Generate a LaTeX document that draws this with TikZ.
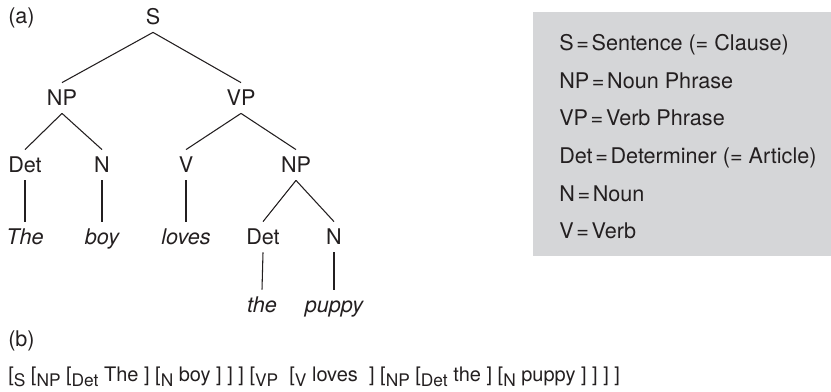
\documentclass[tikz,border=0pt]{standalone}
\usepackage{fontspec}
\setmainfont{TeX Gyre Heros}
\usepackage{xcolor}
\usetikzlibrary{positioning}
\definecolor{boxgray}{RGB}{213,214,216}
\definecolor{inkgray}{RGB}{35,31,32}
\newcommand{\labsize}{\fontsize{16.2}{19}\selectfont}
\newcommand{\strsize}{\fontsize{15}{18}\selectfont}
\newcommand{\lowsub}[1]{[\raisebox{-3.5pt}{\fontsize{13}{13}\selectfont #1}}
\newcommand{\eq}{\hspace{2pt}=\hspace{2pt}}
\tikzset{
  cat/.style={text=inkgray, font=\labsize, text height=11.7pt, text depth=0pt, inner sep=5.5pt},
  word/.style={cat, font=\labsize\itshape},
  key/.style={text=inkgray, font=\labsize, anchor=base west, inner sep=0pt},
  branch/.style={draw=inkgray, line width=0.8pt}
}

\begin{document}
\begin{tikzpicture}[x=0.75pt,y=0.75pt,yscale=-1,xscale=1]
\useasboundingbox (0,0) rectangle (831,392);

%Shape: Rectangle (legend)
\fill [boxgray] (533,12) rectangle (831,256);

% Text Node
\node [key] (parta) at (8,24) {(a)};
\node [key] (partb) at (8,346) {(b)};

% Tree nodes
\node [cat] (s) at (153,17) {S};
\node [cat] (np) at (62,98) {NP};
\node [cat] (vp) at (241,98) {VP};
\node [cat] (det) at (25,165) {Det};
\node [cat] (n) at (102,165) {N};
\node [cat] (v) at (186,165) {V};
\node [cat] (npb) at (296,165) {NP};
\node [word] (the) at (25,237) {The};
\node [word] (boy) at (102,237) {boy};
\node [word] (loves) at (186,237) {loves};
\node [cat] (detb) at (263,237) {Det};
\node [cat] (nb) at (334,237) {N};
\node [word] (theb) at (262,305) {the};
\node [word] (puppy) at (334,305) {puppy};

%Straight Lines
\draw [branch] (s.south) -- (np.north);
\draw [branch] (s.south) -- (vp.north);
\draw [branch] (np.south) -- (det.north);
\draw [branch] (np.south) -- (n.north);
\draw [branch] (vp.south) -- (v.north);
\draw [branch] (vp.south) -- (npb.north);
\draw [branch] (det.south) -- (the.north);
\draw [branch] (n.south) -- (boy.north);
\draw [branch] (v.south) -- (loves.north);
\draw [branch] (npb.south) -- (detb.north);
\draw [branch] (npb.south) -- (nb.north);
\draw [branch] (detb.south) -- (theb.north);
\draw [branch] (nb.south) -- (puppy.north);

% Legend
\node [key] (keys) at (559,51) {S\eq Sentence (= Clause)};
\node [key] (keynp) at (559,88.5) {NP\eq Noun Phrase};
\node [key] (keyvp) at (559,126) {VP\eq Verb Phrase};
\node [key] (keydet) at (559,163.5) {Det\eq Determiner (= Article)};
\node [key] (keyn) at (559,201) {N\eq Noun};
\node [key] (keyv) at (559,238.5) {V\eq Verb};

% Bracketed string
\node [key, font=\strsize] (brackets) at (8,381.5) {\lowsub{S} \lowsub{NP} \lowsub{Det} The ] \lowsub{N} boy ] ] ] \lowsub{VP}\ \ \lowsub{V} loves\ \ ] \lowsub{NP} \lowsub{Det} the ] \lowsub{N} puppy ] ] ] ]};

\end{tikzpicture}
\end{document}
